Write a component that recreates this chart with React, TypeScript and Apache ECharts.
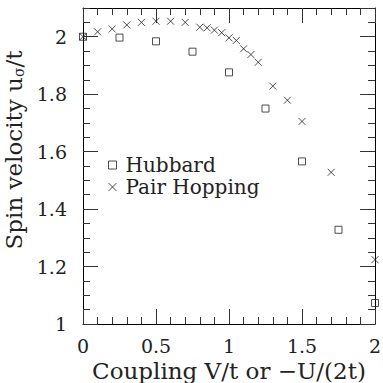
import React, { useEffect, useRef } from "react";
import * as echarts from "echarts";

const hubbardX = [0, 0.25, 0.5, 0.75, 1.0, 1.25, 1.5, 1.75, 2.0];
const hubbardY = [2.0, 1.997, 1.984, 1.948, 1.876, 1.75, 1.566, 1.328, 1.073];

const pairX = [0, 0.1, 0.2, 0.3, 0.4, 0.5, 0.6, 0.7, 0.8, 0.85, 0.9, 0.95, 1.0, 1.05, 1.1, 1.15, 1.2, 1.3, 1.4, 1.5, 1.7, 2.0];
const pairY = [2.0, 2.017, 2.027, 2.041, 2.05, 2.054, 2.054, 2.05, 2.033, 2.031, 2.023, 2.014, 1.996, 1.987, 1.958, 1.938, 1.911, 1.828, 1.779, 1.705, 1.528, 1.224];

const seriesNames = ["Hubbard", "Pair Hopping"];
const xTicks = [0, 0.5, 1, 1.5, 2];

const FONT = "DejaVu Serif";
const CROSS = "path://M0,0L10,10M10,0L0,10";
const TXT = "#222";
const LINE = "#000";
const TICK = "#333";

export default function App() {
  const ref = useRef<HTMLDivElement>(null);
  useEffect(() => {
    if (!ref.current) return;
    const chart = echarts.init(ref.current, undefined, { renderer: "svg" });
    const baseX = {
      type: "value" as const,
      min: xTicks[0],
      max: xTicks[xTicks.length - 1],
      interval: 0.5,
      splitLine: { show: false },
      axisLine: { show: true, onZero: false, lineStyle: { color: LINE, width: 1 } },
      axisTick: { show: true, inside: true, length: 15, lineStyle: { color: TICK, width: 1 } },
      minorTick: { show: true, splitNumber: 5, length: 7, lineStyle: { color: TICK, width: 1 } },
    };
    const baseY = {
      type: "value" as const,
      min: 1,
      max: 2.1,
      splitLine: { show: false },
    };
    chart.setOption({
      animation: false,
      grid: { left: 83, right: 8, top: 8, bottom: 59, containLabel: false, outerBoundsMode: "none" },
      legend: {
        orient: "vertical",
        left: 103,
        top: 150,
        itemGap: 2,
        itemWidth: 8,
        itemHeight: 8,
        itemStyle: { color: "transparent", borderColor: "#222", borderWidth: 1 },
        textStyle: { fontFamily: FONT, fontSize: 20, color: TXT, padding: [0, 0, 0, 4] },
        data: [
          { name: seriesNames[0], icon: "rect" },
          { name: seriesNames[1], icon: CROSS },
        ],
      },
      xAxis: [
        {
          ...baseX,
          position: "bottom",
          axisLabel: {
            show: true,
            margin: 12,
            fontFamily: FONT,
            fontSize: 19,
            color: TXT,
            formatter: (v: number) => String(v),
          },
          name: "Coupling V/t or \u2212U/(2t)",
          nameLocation: "middle",
          nameGap: 28,
          nameTextStyle: { fontFamily: FONT, fontSize: 23, color: TXT },
        },
        { ...baseX, position: "top", axisLabel: { show: false } },
      ],
      yAxis: [
        {
          ...baseY,
          position: "left",
          interval: 0.2,
          axisLine: { show: true, onZero: false, lineStyle: { color: LINE, width: 1 } },
          axisTick: { show: true, inside: true, length: 15, lineStyle: { color: TICK, width: 1 } },
          axisLabel: {
            show: true,
            margin: 16,
            showMaxLabel: false,
            fontFamily: FONT,
            fontSize: 19,
            color: TXT,
            formatter: (v: number) => String(Math.round(v * 10) / 10),
          },
          name: "Spin velocity u{s|\u03c3}/t",
          nameLocation: "middle",
          nameGap: 55,
          nameTextStyle: {
            fontFamily: FONT,
            fontSize: 23,
            color: TXT,
            padding: [0, 0, 0, 32],
            rich: {
              s: { fontFamily: FONT, fontSize: 14, color: TXT, verticalAlign: "bottom", padding: [8, 0, 0, 0] },
            },
          },
        },
        {
          ...baseY,
          position: "left",
          interval: 0.05,
          axisLine: { show: false, onZero: false },
          axisTick: { show: true, inside: true, length: 7, lineStyle: { color: TICK, width: 1 } },
          axisLabel: { show: false },
        },
        {
          ...baseY,
          position: "right",
          interval: 0.2,
          axisLine: { show: true, onZero: false, lineStyle: { color: LINE, width: 1 } },
          axisTick: { show: true, inside: true, length: 15, lineStyle: { color: TICK, width: 1 } },
          axisLabel: { show: false },
        },
        {
          ...baseY,
          position: "right",
          interval: 0.05,
          axisLine: { show: false, onZero: false },
          axisTick: { show: true, inside: true, length: 7, lineStyle: { color: TICK, width: 1 } },
          axisLabel: { show: false },
        },
      ],
      series: [
        {
          name: seriesNames[0],
          type: "scatter",
          symbol: "rect",
          symbolSize: 7,
          itemStyle: { color: "transparent", borderColor: "#222", borderWidth: 1 },
          data: hubbardX.map((x, i) => [x, hubbardY[i]]),
        },
        {
          name: seriesNames[1],
          type: "scatter",
          symbol: CROSS,
          symbolSize: 7,
          itemStyle: { color: "transparent", borderColor: "#222", borderWidth: 1 },
          data: pairX.map((x, i) => [x, pairY[i]]),
        },
      ],
    });
    return () => chart.dispose();
  }, []);
  return <div ref={ref} style={{ width: 383, height: 383, position: "absolute", left: 0, top: 0 }} />;
}
